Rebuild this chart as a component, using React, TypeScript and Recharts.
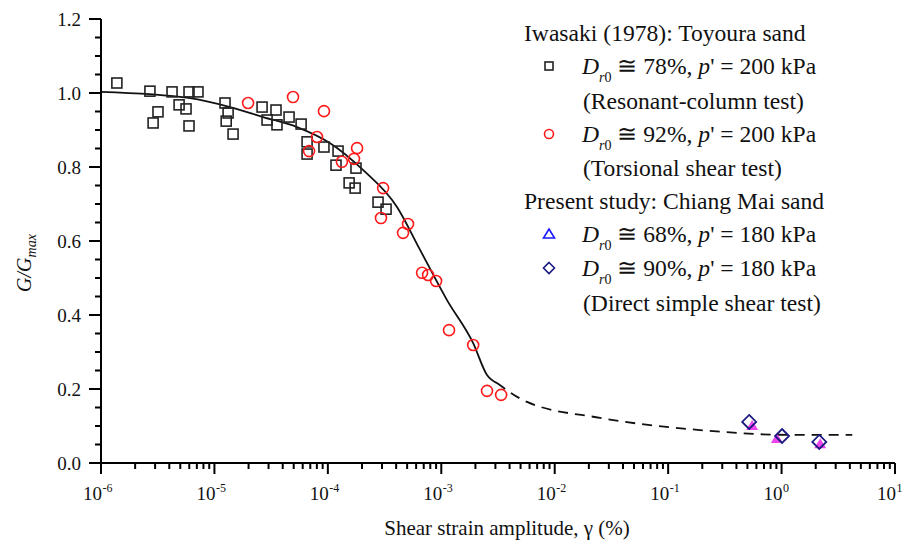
import { ComposedChart, Label, Line, Scatter, XAxis, YAxis } from "recharts";

const serif = '"Liberation Serif", "Times New Roman", serif';

// Iwasaki (1978), resonant-column test, Dr0 ~ 78 %
const rcStrain = [
  1.38e-6, 2.7e-6, 3.18e-6, 2.88e-6, 4.23e-6, 4.88e-6, 5.62e-6, 5.97e-6, 5.97e-6, 7.16e-6,
  1.24e-5, 1.32e-5, 1.27e-5, 1.46e-5, 2.63e-5, 3.49e-5, 2.91e-5, 3.56e-5, 4.55e-5, 5.81e-5,
  6.56e-5, 6.56e-5, 9.24e-5, 1.23e-4, 1.18e-4, 1.77e-4, 1.54e-4, 1.74e-4, 2.77e-4, 3.26e-4,
];
const rcRatio = [
  1.027, 1.005, 0.949, 0.919, 1.003, 0.968, 0.957, 1.003, 0.911, 1.003,
  0.973, 0.946, 0.924, 0.889, 0.962, 0.954, 0.927, 0.914, 0.935, 0.916,
  0.868, 0.835, 0.854, 0.843, 0.805, 0.797, 0.757, 0.743, 0.705, 0.686,
];

// Iwasaki (1978), torsional shear test, Dr0 ~ 92 %
const tsStrain = [
  1.98e-5, 4.93e-5, 9.24e-5, 8.03e-5, 6.83e-5, 1.33e-4, 1.81e-4, 1.7e-4, 3.07e-4, 2.94e-4,
  5.09e-4, 4.6e-4, 6.77e-4, 7.65e-4, 9.0e-4, 1.17e-3, 1.91e-3, 2.53e-3, 3.37e-3,
];
const tsRatio = [
  0.973, 0.989, 0.951, 0.881, 0.843, 0.814, 0.851, 0.822, 0.743, 0.662,
  0.646, 0.622, 0.514, 0.508, 0.492, 0.359, 0.319, 0.195, 0.184,
];

// present study, direct simple shear
const dss68Strain = [0.55, 0.91, 2.19];
const dss68Ratio = [0.1, 0.065, 0.051];
const dss90Strain = [0.518, 1.01, 2.15];
const dss90Ratio = [0.111, 0.073, 0.057];

// fitted curve (solid part, then dashed extrapolation)
const fitStrain = [1e-6, 6.1e-6, 1.37e-5, 2.69e-5, 5.35e-5, 1.04e-4, 2.04e-4, 4.07e-4, 6.5e-4, 1.12e-3, 1.91e-3, 2.53e-3, 3.1e-3];
const fitRatio = [1.003, 0.986, 0.962, 0.935, 0.908, 0.865, 0.792, 0.692, 0.576, 0.441, 0.324, 0.238, 0.216];
const extStrain = [3.1e-3, 5.7e-3, 0.0251, 0.191, 1.19, 4.2];
const extRatio = [0.216, 0.165, 0.122, 0.089, 0.076, 0.076];

const xDecades = [1e-6, 1e-5, 1e-4, 1e-3, 1e-2, 1e-1, 1, 10];
const xDecadeLabels = ["-6", "-5", "-4", "-3", "-2", "-1", "0", "1"];
const xMinor = xDecades.slice(0, -1).flatMap((d) => [2, 3, 4, 5, 6, 7, 8, 9].map((m) => m * d));
const yMajor = [0, 0.2, 0.4, 0.6, 0.8, 1.0, 1.2];
const yMajorLabels = ["0.0", "0.2", "0.4", "0.6", "0.8", "1.0", "1.2"];
const yMinor = [0.05, 0.1, 0.15, 0.25, 0.3, 0.35, 0.45, 0.5, 0.55, 0.65, 0.7, 0.75, 0.85, 0.9, 0.95, 1.05, 1.1, 1.15];

const zip = (xs: number[], ys: number[]) => xs.map((x, i) => ({ x, g: ys[i] }));

const XTick = (props: any) => {
  const { x, y, payload } = props;
  const idx = xDecades.indexOf(payload.value);
  const major = idx >= 0;
  return (
    <g>
      <line x1={x} x2={x} y1={y} y2={y + (major ? 11 : 6)} stroke="#000" strokeWidth={2} />
      {major && (
        <>
          <text x={x + 1} y={y + 37} textAnchor="end" fontSize={19} fontFamily={serif} fill="#111">
            10
          </text>
          <text x={x + 1.5} y={y + 29} fontSize={12} fontFamily={serif} fill="#111">
            {xDecadeLabels[idx]}
          </text>
        </>
      )}
    </g>
  );
};

const YTick = (props: any) => {
  const { x, y, payload } = props;
  const idx = yMajor.findIndex((v) => Math.abs(v - payload.value) < 1e-9);
  const major = idx >= 0;
  return (
    <g>
      <line x1={x - (major ? 12 : 6)} x2={x} y1={y} y2={y} stroke="#000" strokeWidth={2} />
      {major && (
        <text x={x - 20} y={y + 6.5} textAnchor="end" fontSize={19} fontFamily={serif} fill="#111">
          {yMajorLabels[idx]}
        </text>
      )}
    </g>
  );
};

const SquareMark = (p: any) => (
  <rect x={p.cx - 5} y={p.cy - 5} width={10} height={10} fill="none" stroke="#222" strokeWidth={1.6} />
);
const CircleMark = (p: any) => <circle cx={p.cx} cy={p.cy} r={5.5} fill="none" stroke="#ff1a1a" strokeWidth={1.6} />;
const TriangleMark = (p: any) => (
  <polygon points={`${p.cx},${p.cy - 6} ${p.cx + 6},${p.cy + 4} ${p.cx - 6},${p.cy + 4}`} fill="#ee44ee" />
);
const DiamondMark = (p: any) => (
  <polygon
    points={`${p.cx},${p.cy - 7} ${p.cx + 7},${p.cy} ${p.cx},${p.cy + 7} ${p.cx - 7},${p.cy}`}
    fill="none"
    stroke="#1a1a80"
    strokeWidth={1.8}
  />
);

const Dr = ({ pct, p }: { pct: string; p: string }) => (
  <span>
    <i>D</i>
    <span style={{ fontSize: 14, position: "relative", top: 8 }}>
      <i>r</i>0
    </span>
    {` \u2245 ${pct}%, `}
    <i>p</i>
    {`' = ${p} kPa`}
  </span>
);

const legendRows: Array<{ top: number; left: number; content: any; marker?: string }> = [
  { top: 33, left: 524, content: "Iwasaki (1978): Toyoura sand" },
  { top: 66, left: 582, content: <Dr pct="78" p="200" />, marker: "square" },
  { top: 101, left: 583, content: "(Resonant-column test)" },
  { top: 134, left: 582, content: <Dr pct="92" p="200" />, marker: "circle" },
  { top: 168, left: 583, content: "(Torsional shear test)" },
  { top: 201, left: 524, content: "Present study: Chiang Mai sand" },
  { top: 234, left: 582, content: <Dr pct="68" p="180" />, marker: "triangle" },
  { top: 268, left: 582, content: <Dr pct="90" p="180" />, marker: "diamond" },
  { top: 303, left: 583, content: "(Direct simple shear test)" },
];

const LegendMarker = ({ kind }: { kind: string }) => (
  <svg width={16} height={16} viewBox="-8 -8 16 16">
    {kind === "square" && <rect x={-4} y={-4} width={8} height={8} fill="none" stroke="#222" strokeWidth={1.6} />}
    {kind === "circle" && <circle r={4.5} fill="none" stroke="#ff1a1a" strokeWidth={1.6} />}
    {kind === "triangle" && <polygon points="0,-5 5.5,4 -5.5,4" fill="none" stroke="#1a1aff" strokeWidth={1.6} />}
    {kind === "diamond" && <polygon points="0,-5.5 5.5,0 0,5.5 -5.5,0" fill="none" stroke="#1a1a80" strokeWidth={1.6} />}
  </svg>
);

export default function App() {
  return (
    <div style={{ position: "absolute", left: 0, top: 0, width: 919, height: 546, background: "#fff", fontFamily: serif }}>
      <ComposedChart width={919} height={546} margin={{ top: 19, right: 24, left: 41, bottom: 23 }}>
        <XAxis
          dataKey="x"
          type="number"
          scale="log"
          domain={[1e-6, 10]}
          allowDataOverflow
          ticks={[...xDecades, ...xMinor]}
          interval={0}
          tick={<XTick />}
          tickLine={false}
          tickSize={0}
          tickMargin={0}
          height={60}
          axisLine={{ stroke: "#000", strokeWidth: 2 }}
        >
          <Label
            content={(props: any) => {
              const vb = props.viewBox || { x: 101, y: 463, width: 794 };
              return (
                <text x={vb.x + vb.width / 2 + 9} y={vb.y + 72} textAnchor="middle" fontSize={21} fontFamily={serif} fill="#111">
                  Shear strain amplitude, γ (%)
                </text>
              );
            }}
          />
        </XAxis>
        <YAxis
          dataKey="g"
          type="number"
          domain={[0, 1.2]}
          allowDataOverflow
          ticks={[...yMajor, ...yMinor]}
          interval={0}
          tick={<YTick />}
          tickLine={false}
          tickSize={0}
          tickMargin={0}
          width={60}
          axisLine={{ stroke: "#000", strokeWidth: 2 }}
        >
          <Label
            content={() => (
              <text transform="rotate(-90 31 263)" x={31} y={263} textAnchor="middle" fontSize={20} fontFamily={serif} fontStyle="italic" fill="#111">
                G/G
                <tspan fontSize={14} dy={5}>
                  max
                </tspan>
              </text>
            )}
          />
        </YAxis>
        <Line data={zip(fitStrain, fitRatio)} dataKey="g" type="monotone" stroke="#111" strokeWidth={1.8} dot={false} isAnimationActive={false} />
        <Line
          data={zip(extStrain, extRatio)}
          dataKey="g"
          type="monotone"
          stroke="#111"
          strokeWidth={1.8}
          strokeDasharray="10 7"
          dot={false}
          isAnimationActive={false}
        />
        <Scatter data={zip(rcStrain, rcRatio)} shape={SquareMark} isAnimationActive={false} />
        <Scatter data={zip(tsStrain, tsRatio)} shape={CircleMark} isAnimationActive={false} />
        <Scatter data={zip(dss68Strain, dss68Ratio)} shape={TriangleMark} isAnimationActive={false} />
        <Scatter data={zip(dss90Strain, dss90Ratio)} shape={DiamondMark} isAnimationActive={false} />
      </ComposedChart>
      {legendRows.map((row, i) => (
        <div key={i}>
          {row.marker && (
            <div style={{ position: "absolute", left: 541, top: row.top - 8, width: 16, height: 16 }}>
              <LegendMarker kind={row.marker} />
            </div>
          )}
          <div
            style={{
              position: "absolute",
              left: row.left,
              top: row.top - 17,
              height: 34,
              lineHeight: "34px",
              fontSize: 23.6,
              whiteSpace: "nowrap",
              color: "#111",
            }}
          >
            {row.content}
          </div>
        </div>
      ))}
    </div>
  );
}
